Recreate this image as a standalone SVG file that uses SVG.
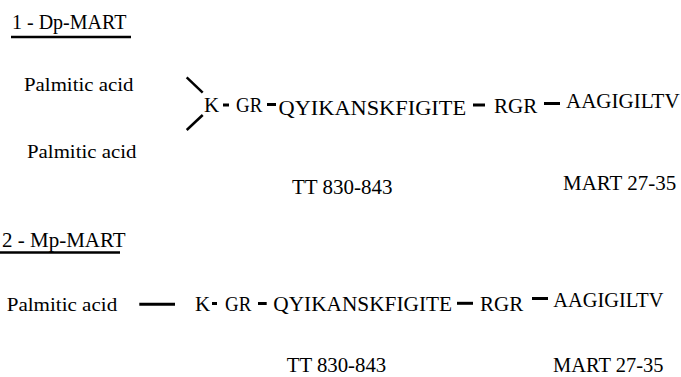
<svg xmlns="http://www.w3.org/2000/svg" width="681" height="377" viewBox="0 0 681 377">
<rect width="681" height="377" fill="#fff"/>
<g id="title1"><text font-family="Liberation Serif" font-size="20" x="12" y="29">1 - Dp-MART</text><line x1="11" y1="37" x2="131" y2="37" stroke="#000" stroke-width="2.5"/></g>
<g id="palm1a"><text font-family="Liberation Serif" font-size="20" transform="translate(24 91) scale(1.043 0.975)">Palmitic acid</text></g>
<g id="palm1b"><text font-family="Liberation Serif" font-size="20" transform="translate(27 158) scale(1.043 0.975)">Palmitic acid</text></g>
<g id="k1"><text font-family="Liberation Serif" font-size="20" transform="translate(204 111.5) scale(1.05 1.05)">K</text></g>
<g id="gr1"><text font-family="Liberation Serif" font-size="20" transform="translate(236 111.5) scale(0.945 1.05)">GR</text></g>
<g id="tt1seq"><text font-family="Liberation Serif" font-size="20" transform="translate(278.5 115) scale(1.118 1.05)">QYIKANSKFIGITE</text></g>
<g id="rgr1"><text font-family="Liberation Serif" font-size="20" transform="translate(494 112.5) scale(1.05 1.05)">RGR</text></g>
<g id="mart1seq"><text font-family="Liberation Serif" font-size="20" transform="translate(566 108) scale(1.05 1.05)">AAGIGILTV</text></g>
<g id="tt1label"><text font-family="Liberation Serif" font-size="20" transform="translate(292 194) scale(1.05 1)">TT 830-843</text></g>
<g id="mart1label"><text font-family="Liberation Serif" font-size="20" transform="translate(563 190) scale(1.05 1)">MART 27-35</text></g>
<g id="title2"><text font-family="Liberation Serif" font-size="20" transform="translate(2 247) scale(1.05 1)">2 - Mp-MART</text><line x1="0" y1="252.5" x2="120" y2="252.5" stroke="#000" stroke-width="2.5"/></g>
<g id="palm2"><text font-family="Liberation Serif" font-size="20" transform="translate(6.7 310.5) scale(1.053 0.975)">Palmitic acid</text></g>
<g id="k2"><text font-family="Liberation Serif" font-size="20" transform="translate(195 311) scale(1.05 1.05)">K</text></g>
<g id="gr2"><text font-family="Liberation Serif" font-size="20" transform="translate(225 311) scale(0.945 1.05)">GR</text></g>
<g id="tt2seq"><text font-family="Liberation Serif" font-size="20" transform="translate(273.3 311) scale(1.066 1.05)">QYIKANSKFIGITE</text></g>
<g id="rgr2"><text font-family="Liberation Serif" font-size="20" transform="translate(480 311) scale(1.05 1.05)">RGR</text></g>
<g id="mart2seq"><text font-family="Liberation Serif" font-size="20" transform="translate(553.3 306.5) scale(1.0185 1.05)">AAGIGILTV</text></g>
<g id="tt2label"><text font-family="Liberation Serif" font-size="20" transform="translate(286.7 372) scale(1.04 1)">TT 830-843</text></g>
<g id="mart2label"><text font-family="Liberation Serif" font-size="20" transform="translate(553 372) scale(1.024 1)">MART 27-35</text></g>
<g id="connectors" stroke="#000" stroke-width="3" fill="none">
<line x1="186.7" y1="77.3" x2="202.7" y2="92.7" stroke-width="2.5"/>
<line x1="202.7" y1="115" x2="186.7" y2="130" stroke-width="2.5"/>
<line x1="223" y1="105" x2="229" y2="105"/>
<line x1="267" y1="104.5" x2="276" y2="104.5"/>
<line x1="473" y1="105" x2="485" y2="105"/>
<line x1="544" y1="103.5" x2="560" y2="103.5"/>
<line x1="139.3" y1="304.3" x2="175" y2="304.3"/>
<line x1="212" y1="303.5" x2="217" y2="303.5"/>
<line x1="258" y1="303.5" x2="266.7" y2="303.5"/>
<line x1="457" y1="303.3" x2="473" y2="303.3"/>
<line x1="532" y1="298.5" x2="548" y2="298.5"/>
</g>
</svg>
